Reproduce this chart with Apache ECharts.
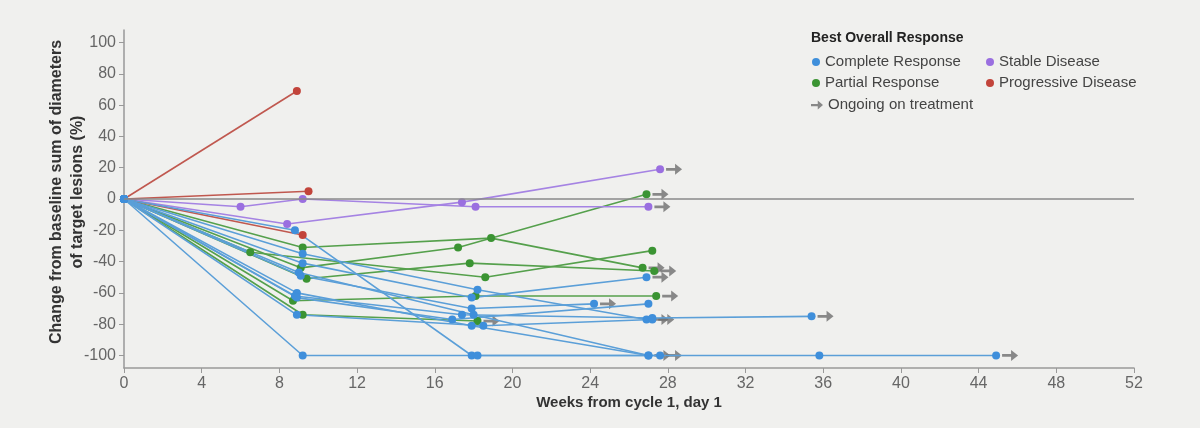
<!DOCTYPE html>
<html><head><meta charset="utf-8">
<script src="https://cdn.jsdelivr.net/npm/echarts@6/dist/echarts.min.js"></script>
<style>html,body{margin:0;padding:0;background:#f0f0ee;}#c{width:1200px;height:428px;}</style>
</head><body><div id="c"></div>
<script>
// ---- data ----
const xTicks = [0,4,8,12,16,20,24,28,32,36,40,44,48,52];
const yTicks = [-100,-80,-60,-40,-20,0,20,40,60,80,100];
const categories = ['Complete Response','Partial Response','Stable Disease','Progressive Disease'];

// each patient: list of [weeks, % change]
const completeResponse = [
  [[0,0],[8.8,-20],[17.9,-100],[27.6,-100]],
  [[0,0],[9.2,-100],[18.2,-100],[35.8,-100],[44.9,-100]],
  [[0,0],[9.0,-47],[18.0,-74],[27.0,-100]],
  [[0,0],[8.9,-60],[17.9,-81],[27.0,-100]],
  [[0,0],[9.2,-35],[18.2,-58],[26.9,-77]],
  [[0,0],[9.2,-41],[17.9,-63],[26.9,-50]],
  [[0,0],[9.1,-49],[17.9,-70],[24.2,-67]],
  [[0,0],[8.8,-62],[17.4,-74],[27.2,-76],[35.4,-75]],
  [[0,0],[8.9,-63],[16.9,-77],[27.0,-67]],
  [[0,0],[8.9,-74],[18.5,-81],[27.2,-77]]
];
const completeOngoing = [true,true,true,false,true,true,true,true,false,true];

const partialResponse = [
  [[0,0],[9.2,-31],[18.9,-25],[26.7,-44]],
  [[0,0],[9.1,-44],[17.2,-31],[26.9,3]],
  [[0,0],[6.5,-34],[18.6,-50],[27.2,-33]],
  [[0,0],[9.4,-51],[17.8,-41],[27.3,-46]],
  [[0,0],[8.7,-65],[18.1,-62],[27.4,-62]],
  [[0,0],[9.2,-74],[18.2,-78]]
];
const partialOngoing = [true,true,false,true,true,true];

const stableDisease = [
  [[0,0],[6.0,-5],[9.2,0],[18.1,-5],[27.0,-5]],
  [[0,0],[8.4,-16],[17.4,-2],[27.6,19]]
];
const stableOngoing = [true,true];

const progressiveDisease = [
  [[0,0],[8.9,69]],
  [[0,0],[9.5,5]],
  [[0,0],[9.2,-23]]
];
const progressiveOngoing = [false,false,false];

// ---- styles ----
const dotColors = {'Complete Response':'#3f8fdb','Partial Response':'#3b9433','Stable Disease':'#9a6fe0','Progressive Disease':'#c2443b'};
const lineColors = {'Complete Response':'#5b9fd8','Partial Response':'#55a04c','Stable Disease':'#a583e3','Progressive Disease':'#c0584f'};
const arrowPath = 'path://M0,4.5 L9,4.5 L9,0 L16,6 L9,12 L9,7.5 L0,7.5 Z';
const arrowOffset = 0.72;

const groups = [
  ['Partial Response', partialResponse, partialOngoing],
  ['Stable Disease', stableDisease, stableOngoing],
  ['Progressive Disease', progressiveDisease, progressiveOngoing],
  ['Complete Response', completeResponse, completeOngoing]
];

const series = [];
const arrows = [];
groups.forEach(([name, pats, ongoing]) => {
  pats.forEach((pts, i) => {
    series.push({
      type:'line', name, data: pts, symbol:'circle', symbolSize:8,
      showAllSymbol:true, animation:false,
      lineStyle:{color: lineColors[name], width:1.6},
      itemStyle:{color: dotColors[name]},
      emphasis:{disabled:true}, z:3
    });
    if (ongoing[i]) {
      const last = pts[pts.length-1];
      arrows.push([last[0] + arrowOffset, last[1]]);
    }
  });
});
series[0].markLine = {
  silent:true, symbol:'none', animation:false,
  label:{show:false},
  lineStyle:{color:'#8a8a8a', width:1.5, type:'solid'},
  data:[{yAxis:0}]
};
series.push({
  type:'scatter', name:'Ongoing on treatment', data: arrows,
  symbol: arrowPath, symbolSize:[16,11], animation:false, z:2,
  itemStyle:{color:'#6e6e6e'}
});

const legendText = {color:'#444', fontSize:15, fontFamily:'Liberation Sans, Arial, sans-serif', lineHeight:16};

const chart = echarts.init(document.getElementById('c'));
chart.setOption({
  backgroundColor:'#f0f0ee',
  animation:false,
  title:{text:'Best Overall Response', left:811, top:31, padding:0,
    textStyle:{fontSize:14, fontWeight:'bold', color:'#222', fontFamily:'Liberation Sans, Arial, sans-serif'}},
  legend:[
    {data:['Complete Response','Partial Response'], orient:'vertical', left:812, top:54, padding:0,
      icon:'circle', itemWidth:8, itemHeight:8, itemGap:5, textStyle:legendText, selectedMode:false},
    {data:['Stable Disease','Progressive Disease'], orient:'vertical', left:986, top:54, padding:0,
      icon:'circle', itemWidth:8, itemHeight:8, itemGap:5, textStyle:legendText, selectedMode:false},
    {data:[{name:'Ongoing on treatment', icon: arrowPath}], orient:'vertical', left:811, top:97, padding:0,
      itemWidth:12, itemHeight:9, textStyle:legendText, selectedMode:false}
  ],
  grid:{left:124, right:66, top:30, bottom:60, containLabel:false, outerBoundsMode:'none'},
  xAxis:{
    type:'value', min:0, max:52, interval:4,
    name:'Weeks from cycle 1, day 1', nameLocation:'middle', nameGap:27, nameMoveOverlap:false,
    nameTextStyle:{fontSize:15, fontWeight:'bold', color:'#333', fontFamily:'Liberation Sans Narrow, Arial Narrow, sans-serif'},
    axisLine:{show:true, onZero:false, lineStyle:{color:'#999', width:1.5}},
    axisTick:{show:true, length:5, lineStyle:{color:'#999'}},
    axisLabel:{color:'#666', fontSize:16, margin:8, fontFamily:'Liberation Sans Narrow, Arial Narrow, sans-serif'},
    splitLine:{show:false}
  },
  yAxis:{
    type:'value', min:-108, max:108,
    name:'Change from baseline sum of diameters\nof target lesions (%)', nameLocation:'middle', nameGap:36, nameMoveOverlap:false,
    nameTextStyle:{fontSize:16, fontWeight:'bold', color:'#333', lineHeight:21, padding:[0,0,0,14], fontFamily:'Liberation Sans, Arial, sans-serif'},
    axisLine:{show:true, onZero:false, lineStyle:{color:'#999', width:1.5}},
    axisTick:{show:true, length:5, customValues: yTicks, lineStyle:{color:'#999'}},
    axisLabel:{color:'#666', fontSize:16, margin:8, customValues: yTicks, fontFamily:'Liberation Sans, Arial, sans-serif'},
    splitLine:{show:false}
  },
  series
});
</script></body></html>
